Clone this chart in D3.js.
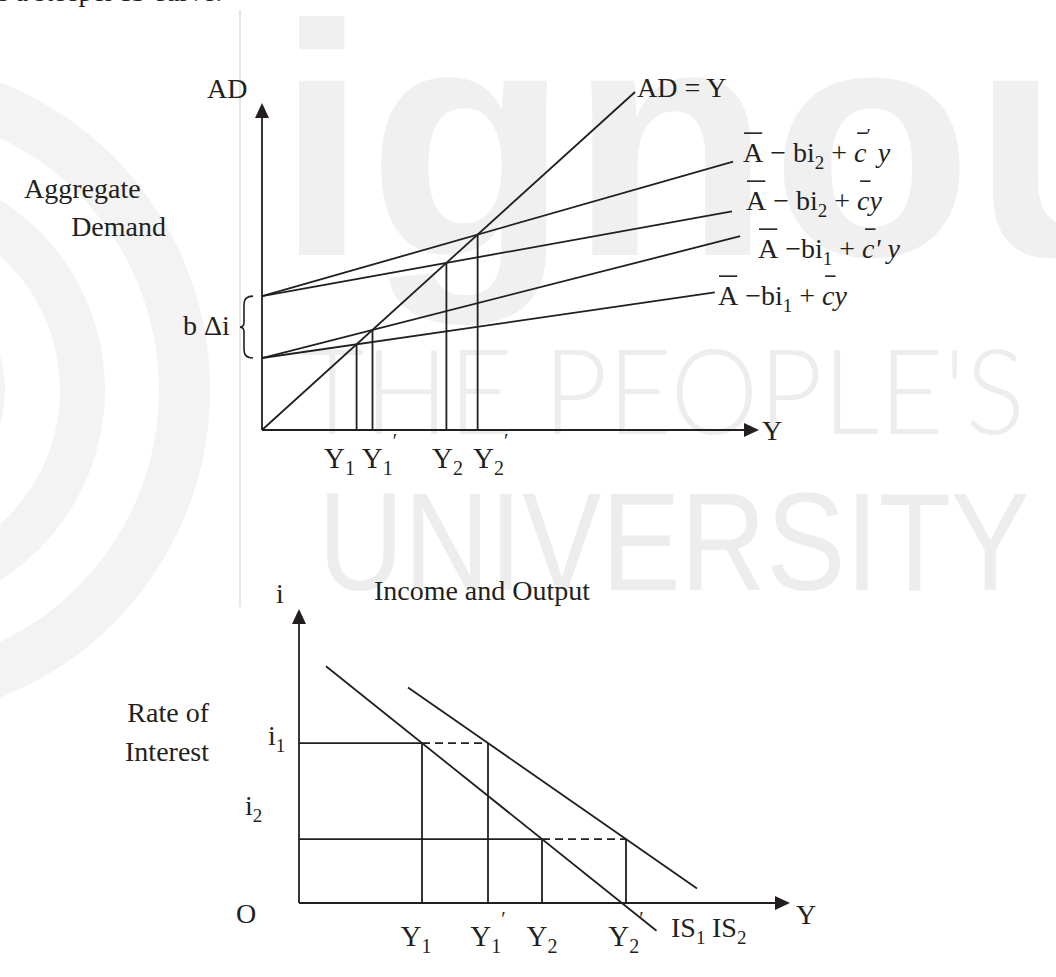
<!DOCTYPE html>
<html><head><meta charset="utf-8">
<script src="https://cdn.jsdelivr.net/npm/d3@7"></script>
<style>
html,body{margin:0;padding:0;background:#fff;}
svg{display:block;}
text{font-family:"Liberation Serif","Times New Roman",serif;fill:#231f20;white-space:pre;}
</style></head><body>
<svg id="fig" width="1056" height="977"></svg>
<script>
// ---------- Keynesian cross: aggregate demand schedules ----------
// autonomous spending (A − b·i) and propensity to consume for each schedule
const scheduleIntercepts = [39.6, 39.6, 21.3, 21.3];
const scheduleSlopes     = [0.315, 0.199, 0.281, 0.16];
const scheduleEnds       = [126.3, 126.0, 128.2, 121.4];
// income levels, in the order the schedules meet the 45° line (lowest first)
const crossOrder  = [3, 2, 1, 0];
const incomeNames = ["Y1", "Y1'", "Y2", "Y2'"];

// ---------- IS curves ----------
const rateLevels  = [53.3, 21.3];          // i1, i2
const is1Outputs  = [24.6, 48.6];          // Y1, Y2
const is2Outputs  = [37.8, 65.4];          // Y1', Y2'
const isStartX    = [5.4, 21.8];
const isEndX      = [71.5, 79.6];

const INK = "#231f20";
const svg = d3.select("#fig");

// ---------- faint background emblem ----------
const wm = svg.append("g");
const ringCenter = [-120, 390];
[[279, 330], [180, 225], [80, 125]].forEach(([r0, r1]) => {
  wm.append("path")
    .attr("transform", `translate(${ringCenter[0]},${ringCenter[1]})`)
    .attr("d", d3.arc().innerRadius(r0).outerRadius(r1).startAngle(0).endAngle(Math.PI)())
    .attr("fill", "#f3f3f3");
});
wm.append("line").attr("x1", 240).attr("x2", 240).attr("y1", 10).attr("y2", 607)
  .attr("stroke", "#e6e6e6").attr("stroke-width", 2);
wm.append("text").attr("x", 276).attr("y", 255)
  .style("font-family", "'Liberation Sans',Arial,sans-serif").style("font-weight", 700)
  .attr("font-size", 330).style("fill", "#f0f0f0").text("ignou");
wm.append("text").attr("x", 300).attr("y", 434)
  .style("font-family", "Lato,'Liberation Sans',sans-serif").style("font-weight", 300)
  .attr("font-size", 118).attr("textLength", 725).attr("lengthAdjust", "spacingAndGlyphs")
  .style("fill", "#ededed").text("THE PEOPLE'S");
wm.append("text").attr("x", 318).attr("y", 590)
  .style("font-family", "'Liberation Sans',Arial,sans-serif").style("font-weight", 400)
  .attr("font-size", 140).attr("textLength", 712).attr("lengthAdjust", "spacingAndGlyphs")
  .style("fill", "#ededed").text("UNIVERSITY");

// trailing line of the preceding paragraph
svg.append("text").attr("x", -4).attr("y", 1).attr("font-size", 28).text("e a steeper IS curve.");

// ---------- helpers ----------
function rich(x, y, parts, anchor, size) {
  size = size || 28;
  const g = svg.append("g");
  let cx = 0;
  const bars = [];
  parts.forEach(p => {
    const s = p.sub || p.sup ? Math.round(size * 0.68) : size;
    const dy = p.sub ? 7 : p.sup ? (p.high ? -20 : -13) : 0;
    const el = g.append("text").attr("x", cx).attr("y", dy).attr("font-size", s)
      .attr("xml:space", "preserve")
      .style("font-style", p.it ? "italic" : "normal").text(p.t);
    const w = el.node().getComputedTextLength();
    if (p.bar) bars.push(p.it ? [cx + 3, cx + w + 1] : [cx + 1, cx + w - 1]);
    cx += w;
  });
  bars.forEach(b => g.append("line").attr("x1", b[0]).attr("x2", b[1])
    .attr("y1", -size * 1.03).attr("y2", -size * 1.03)
    .attr("stroke", INK).attr("stroke-width", 1.6));
  const off = anchor === "middle" ? -cx / 2 : anchor === "end" ? -cx : 0;
  g.attr("transform", `translate(${x + off},${y})`);
  return g;
}
function arrowHead(x, y, dir) {
  const L = 15, H = 7;
  const pts = dir === "up"
    ? [[x, y], [x - H, y + L], [x + H, y + L]]
    : [[x, y], [x - L, y - H], [x - L, y + H]];
  svg.append("path").attr("d", d3.line()(pts) + "Z").attr("fill", INK);
}
function nameParts(n) {
  const sub = n.includes("1") ? "1" : "2";
  const parts = [{ t: "Y" }, { t: sub, sub: true }];
  if (n.endsWith("'")) parts.push({ t: "′", sup: true, high: true });
  return parts;
}
const seg = (g, x1, y1, x2, y2, dash) => g.append("line")
  .attr("x1", x1).attr("y1", y1).attr("x2", x2).attr("y2", y2)
  .attr("stroke", INK).attr("stroke-width", 1.8)
  .attr("stroke-dasharray", dash ? "8,5" : null);

// ================= upper panel =================
const xA = d3.scaleLinear().domain([0, 100]).range([262, 635]);
const yA = d3.scaleLinear().domain([0, 100]).range([430, 92]);
const upper = svg.append("g");

// axes
seg(upper, xA(0), yA(0), xA(0), 117);
arrowHead(xA(0), 103, "up");
seg(upper, xA(0), yA(0), 745, yA(0));
arrowHead(759, yA(0), "right");
svg.append("text").attr("x", 207).attr("y", 98).attr("font-size", 28).text("AD");
svg.append("text").attr("x", 762).attr("y", 440).attr("font-size", 28).text("Y");

// 45° line
seg(upper, xA(0), yA(0), xA(100), yA(100));
svg.append("text").attr("x", 637).attr("y", 97).attr("font-size", 28).text("AD = Y");

// AD schedules
scheduleIntercepts.forEach((a, k) => {
  const c = scheduleSlopes[k], xe = scheduleEnds[k];
  seg(upper, xA(0), yA(a), xA(xe), yA(a + c * xe));
});

// equilibrium incomes and drop lines
const equilibria = crossOrder.map(k => scheduleIntercepts[k] / (1 - scheduleSlopes[k]));
equilibria.forEach(v => seg(upper, xA(v), yA(0), xA(v), yA(v)));
const upperNudge = [-17, 7, 1, 13];
equilibria.forEach((v, j) => rich(xA(v) + upperNudge[j], 468, nameParts(incomeNames[j]), "middle", 29));

// schedule labels
const labelAt = [[743, 162], [746, 210], [758, 258], [718, 305]];
const scheduleLabelParts = [
  [{ t: "A", bar: true }, { t: " − bi" }, { t: "2", sub: true }, { t: " + " }, { t: "c", it: true, bar: true }, { t: "′", sup: true, high: true }, { t: " y", it: true }],
  [{ t: "A", bar: true }, { t: " − bi" }, { t: "2", sub: true }, { t: " + " }, { t: "c", it: true, bar: true }, { t: "y", it: true }],
  [{ t: "A", bar: true }, { t: " −bi" }, { t: "1", sub: true }, { t: " + " }, { t: "c", it: true, bar: true }, { t: "' y", it: true }],
  [{ t: "A", bar: true }, { t: " −bi" }, { t: "1", sub: true }, { t: " + " }, { t: "c", it: true, bar: true }, { t: "y", it: true }]
];
scheduleLabelParts.forEach((p, k) => rich(labelAt[k][0], labelAt[k][1], p, "start", 28));

// brace marking the shift b·Δi
const yb1 = yA(scheduleIntercepts[0]), yb2 = yA(scheduleIntercepts[2]), ym = (yb1 + yb2) / 2;
svg.append("path")
  .attr("d", `M253,${yb1} Q244,${yb1} 244,${yb1 + 8} L244,${ym - 5} Q244,${ym} 240,${ym} Q244,${ym} 244,${ym + 5} L244,${yb2 - 8} Q244,${yb2} 253,${yb2}`)
  .attr("fill", "none").attr("stroke", INK).attr("stroke-width", 1.6);
svg.append("text").attr("x", 183).attr("y", 335).attr("font-size", 28).text("b Δi");

svg.append("text").attr("x", 24).attr("y", 198).attr("font-size", 28).text("Aggregate");
svg.append("text").attr("x", 166).attr("y", 236).attr("text-anchor", "end").attr("font-size", 28).text("Demand");
svg.append("text").attr("x", 482).attr("y", 600).attr("text-anchor", "middle").attr("font-size", 28).text("Income and Output");

// ================= lower panel =================
const xB = d3.scaleLinear().domain([0, 100]).range([299, 799]);
const yB = d3.scaleLinear().domain([0, 100]).range([903, 603]);
const lower = svg.append("g");

seg(lower, xB(0), yB(0), xB(0), 623);
arrowHead(xB(0), 609, "up");
seg(lower, xB(0), yB(0), 776, yB(0));
arrowHead(790, yB(0), "right");
svg.append("text").attr("x", 276).attr("y", 603).attr("font-size", 28).text("i");
svg.append("text").attr("x", 796).attr("y", 924).attr("font-size", 28).text("Y");
svg.append("text").attr("x", 236).attr("y", 923).attr("font-size", 28).text("O");
rich(268, 745, [{ t: "i" }, { t: "1", sub: true }], "start", 28);
rich(245, 815, [{ t: "i" }, { t: "2", sub: true }], "start", 28);
svg.append("text").attr("x", 209).attr("y", 722).attr("text-anchor", "end").attr("font-size", 28).text("Rate of");
svg.append("text").attr("x", 209).attr("y", 761).attr("text-anchor", "end").attr("font-size", 28).text("Interest");

// IS curves through (Y, i1) and (Y', i2)
const isLine = (outs, xv) => rateLevels[0] + (rateLevels[1] - rateLevels[0]) * (xv - outs[0]) / (outs[1] - outs[0]);
[is1Outputs, is2Outputs].forEach((outs, k) => {
  seg(lower, xB(isStartX[k]), yB(isLine(outs, isStartX[k])), xB(isEndX[k]), yB(isLine(outs, isEndX[k])));
});

// interest-rate levels: solid to IS1, dashed across to IS2
rateLevels.forEach((r, j) => {
  seg(lower, xB(0), yB(r), xB(is1Outputs[j]), yB(r));
  seg(lower, xB(is1Outputs[j]), yB(r), xB(is2Outputs[j]), yB(r), true);
  seg(lower, xB(is1Outputs[j]), yB(r), xB(is1Outputs[j]), yB(0));
  seg(lower, xB(is2Outputs[j]), yB(r), xB(is2Outputs[j]), yB(0));
});
const lowerOutputs = [is1Outputs[0], is2Outputs[0], is1Outputs[1], is2Outputs[1]];
const lowerNudge = [-6, 0, 0, 0];
lowerOutputs.forEach((v, j) => rich(xB(v) + lowerNudge[j], 946, nameParts(incomeNames[j]), "middle", 29));

rich(671, 937, [{ t: "IS" }, { t: "1", sub: true }], "start", 28);
rich(712, 937, [{ t: "IS" }, { t: "2", sub: true }], "start", 28);
</script>
</body></html>
